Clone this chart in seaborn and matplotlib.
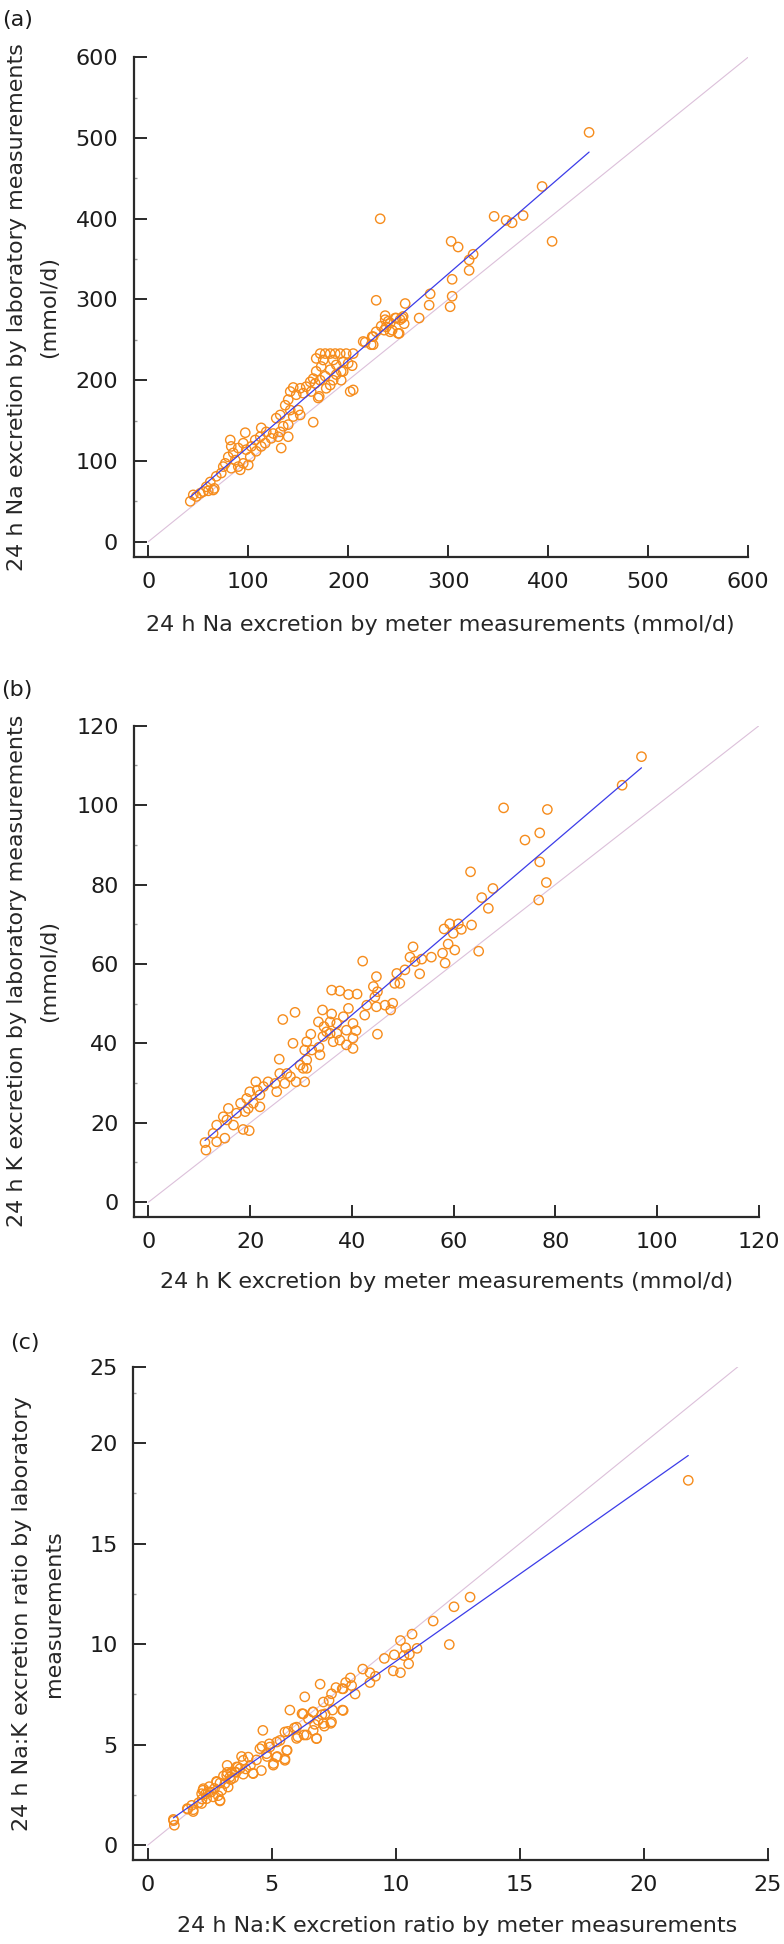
import matplotlib
matplotlib.use("Agg")
import matplotlib.pyplot as plt
from matplotlib.ticker import MultipleLocator
import seaborn as sns

# (a) 24 h Na excretion, mmol/d
na_meter = [441, 394, 232, 346, 358, 364, 375, 404, 303, 310, 325, 321, 321, 304, 304, 302, 282, 281, 228, 257,
            271, 237, 240, 248, 254, 236, 251, 228, 224, 225, 217, 244, 238, 256,
            172, 177, 182, 187, 192, 198, 205,
            168, 175, 185, 195, 200, 188, 204, 193, 182, 173, 168, 177, 185, 193, 172, 167, 162, 158, 152, 145,
            142, 148, 155, 163, 170, 178, 182, 165, 188, 195, 202, 205, 165, 140, 137, 142, 150, 152, 145, 132,
            128, 135, 140, 132, 125, 118, 113, 112, 117, 123, 130, 133, 140, 107, 103, 98, 95, 90, 85, 82,
            83, 80, 77, 75, 87, 90, 95, 102, 108, 113, 100, 92, 83, 73, 68, 62, 65, 58, 55, 52, 48, 45, 42,
            215, 225, 223, 233, 237, 242, 247, 252, 250, 255, 242, 97, 171, 60, 66]
na_lab = [507, 440, 400, 403, 398, 395, 404, 372, 372, 365, 356, 349, 336, 325, 304, 291, 307, 293, 299, 295,
          277, 280, 273, 277, 277, 262, 258, 260, 254, 244, 247, 262, 266, 270,
          233, 233, 233, 233, 233, 233, 233,
          227, 225, 225, 223, 221, 219, 218, 211, 213, 217, 211, 205, 200, 200, 200, 196, 198, 192, 190, 191,
          186, 182, 184, 186, 178, 190, 194, 202, 207, 211, 186, 188, 148, 176, 169, 163, 163, 157, 155, 157,
          153, 143, 145, 136, 134, 136, 141, 130, 122, 128, 130, 116, 130, 126, 118, 114, 122, 116, 110, 126,
          118, 105, 97, 93, 101, 93, 97, 105, 112, 118, 95, 89, 91, 85, 81, 74, 64, 68, 62, 60, 56, 58, 50,
          248, 254, 244, 267, 275, 271, 277, 275, 258, 279, 260, 135, 180, 63, 66]

# (b) 24 h K excretion, mmol/d
k_meter = [69.8, 78.4, 74.0, 76.9, 76.9, 78.2, 76.7, 63.3, 67.7, 65.5, 66.8, 64.9, 58.1, 59.2, 60.9, 61.5, 63.5,
           59.9, 57.8, 58.9, 60.2, 58.3, 52.0, 51.4, 52.4, 53.7, 55.6, 50.4, 53.3, 48.8, 49.4, 48.4, 44.8, 44.2,
           45.0, 44.5, 42.1, 42.9, 44.8, 42.5, 46.5, 47.6, 48.0, 45.0, 36.0, 37.6, 39.3, 41.0, 34.2, 36.0,
           33.4, 34.5, 35.7, 37.0, 38.3, 39.3, 40.2, 38.9, 40.8, 40.2, 38.9, 40.2, 37.6, 36.3, 35.7, 37.0,
           35.0, 34.3, 31.9, 31.1, 33.5, 28.4, 26.4, 28.8, 30.7, 32.1, 31.1, 33.7, 30.4, 29.8, 31.1, 25.7,
           30.7, 29.0, 27.9, 27.2, 25.8, 26.8, 24.9, 25.2, 23.5, 22.6, 21.1, 21.4, 19.9, 19.3, 21.9, 20.6,
           21.9, 19.6, 18.1, 19.0, 17.3, 15.7, 14.7, 15.4, 16.7, 18.6, 19.8, 13.4, 12.7, 15.0, 13.4, 11.1,
           11.3, 93.1, 96.9]
k_lab = [99.3, 98.9, 91.2, 93.0, 85.7, 80.5, 76.1, 83.2, 79.0, 76.7, 74.0, 63.2, 68.8, 70.1, 70.1, 68.7, 69.8,
         67.7, 62.7, 65.0, 63.5, 60.2, 64.3, 61.7, 60.6, 61.2, 61.7, 58.5, 57.5, 57.6, 55.1, 55.1, 56.8, 54.3,
         53.0, 51.7, 60.7, 49.6, 49.2, 47.1, 49.6, 48.4, 50.1, 42.3, 53.4, 53.2, 52.3, 52.4, 48.4, 47.4,
         45.4, 44.2, 45.4, 45.0, 46.7, 48.8, 45.0, 43.3, 43.2, 41.3, 39.6, 38.7, 40.8, 40.4, 42.5, 42.5,
         42.9, 41.7, 42.3, 40.4, 39.0, 40.0, 46.0, 47.8, 38.3, 38.3, 35.8, 37.1, 33.7, 34.5, 33.7, 36.0,
         30.3, 30.3, 31.6, 32.4, 32.4, 29.9, 29.9, 27.8, 30.3, 29.1, 30.3, 28.2, 27.8, 26.1, 27.0, 24.9,
         24.0, 23.6, 24.9, 22.8, 22.4, 23.6, 21.5, 20.7, 19.4, 18.3, 18.0, 19.4, 17.3, 16.1, 15.2, 15.0,
         13.1, 105.0, 112.2]

# (c) 24 h Na:K ratio
ratio_meter = [13.0, 12.35, 11.51, 12.16, 10.66, 10.19, 10.4, 10.86, 9.94, 10.33, 10.55, 10.52, 9.9, 10.19, 9.54,
               9.18, 8.96, 8.96, 8.67, 8.17, 8.36, 7.98, 7.88, 7.59, 6.95, 6.33, 5.73, 7.31, 7.85, 7.45,
               6.66, 6.22, 7.02, 7.38, 7.12, 6.73, 6.48, 6.3, 6.8, 6.05, 5.91, 5.65, 5.62, 5.53, 5.22,
               5.07, 4.9, 4.64, 4.61, 4.81, 4.58, 4.24, 4.38, 4.14, 3.78, 3.95, 3.85, 3.63, 3.56, 3.2,
               3.34, 3.05, 2.91, 2.77, 2.69, 2.91, 2.84, 2.48, 2.33, 2.22, 2.19, 2.05, 1.83, 1.61, 1.04,
               1.07, 3.2, 3.46, 2.55,
               1.03, 1.59, 1.83, 1.77, 2.17, 2.24, 2.17, 2.44, 2.37, 2.64, 2.91, 2.98, 2.78, 3.11, 3.31,
               3.51, 3.72, 3.85, 4.05, 4.25, 4.52, 5.06, 5.2, 5.53, 5.6, 5.33, 5.53, 6.0, 6.27, 6.67,
               6.87, 6.81, 7.08, 7.41, 7.88, 8.22, 7.84, 7.41, 7.08, 7.15, 6.67, 6.0, 6.4, 5.2, 4.92,
               4.79, 3.58, 3.38, 3.18, 3.24, 21.8]
ratio_lab = [12.34, 11.86, 11.15, 9.98, 10.5, 10.18, 9.82, 9.79, 9.47, 9.43, 9.5, 9.02, 8.67, 8.58, 9.29,
             8.4, 8.09, 8.58, 8.76, 8.32, 7.52, 8.09, 7.78, 7.84, 8.01, 7.38, 6.72, 7.2, 6.72, 6.72,
             6.63, 6.54, 6.49, 6.06, 5.92, 6.01, 6.28, 5.48, 5.3, 5.39, 5.83, 5.66, 4.72, 4.29, 4.41,
             4.06, 5.04, 5.71, 4.91, 4.41, 3.71, 3.58, 4.24, 3.97, 4.41, 3.79, 3.53, 3.88, 3.62, 3.62,
             3.26, 3.44, 3.09, 3.17, 2.82, 2.2, 2.46, 2.91, 2.55, 2.73, 2.29, 2.11, 1.76, 1.79, 1.22,
             0.99, 3.97, 3.35, 2.64,
             1.28, 1.82, 1.67, 1.98, 2.07, 2.81, 2.56, 2.65, 2.31, 2.4, 2.23, 2.73, 3.14, 3.06, 3.39,
             3.64, 3.81, 4.22, 4.38, 3.56, 4.8, 3.98, 4.38, 4.22, 4.72, 5.21, 5.63, 5.87, 6.53, 6.62,
             6.21, 5.31, 6.05, 6.13, 6.7, 7.94, 7.78, 7.53, 7.12, 6.53, 5.71, 5.31, 5.48, 5.13, 4.88,
             4.55, 3.89, 3.64, 3.48, 2.89, 18.15]

ring = "#f68c1c"
fit_col = "#3c3ce8"
diag_col = "#dcc0da"
ink = "#2a2a2a"

sns.set_style("ticks")
plt.rcParams["font.family"] = ["DejaVu Sans"]
plt.rcParams["font.size"] = 16
plt.rcParams["text.color"] = "#1c1c1c"

W, H = 784, 1944
fig = plt.figure(figsize=(W / 100, H / 100), dpi=100)


def add_panel(box, meter, lab, xlim, ylim, xticks, yticks, yticklabels, diag_end, minor,
              xlabel, ylabel, xlab_y, xlab_x, ylab_x, tag, tag_xy):
    l, t, r, b = box
    ax = fig.add_axes([l / W, 1 - b / H, (r - l) / W, (b - t) / H])
    ax.plot([0, diag_end], [0, diag_end], color=diag_col, lw=0.8, zorder=1)
    sns.scatterplot(x=meter, y=lab, ax=ax, s=45, facecolors="none", edgecolor=ring,
                    linewidth=1.0, zorder=2)
    sns.regplot(x=meter, y=lab, ax=ax, scatter=False, ci=None, truncate=True,
                line_kws=dict(color=fit_col, lw=0.9, zorder=3))
    ax.set_xlim(*xlim)
    ax.set_ylim(*ylim)
    ax.set_xticks(xticks)
    ax.set_yticks(yticks)
    ax.set_yticklabels(yticklabels)
    ax.yaxis.set_minor_locator(MultipleLocator(minor))
    sns.despine(ax=ax)
    for s in ["left", "bottom"]:
        ax.spines[s].set_linewidth(1.6)
        ax.spines[s].set_color(ink)
    ax.tick_params(which="major", direction="in", length=9, width=1.4, color=ink,
                   labelsize=16, pad=11, labelcolor="#1c1c1c")
    ax.tick_params(axis="y", which="minor", direction="in", length=2.5, width=1, color="#9a9a9a")
    ax.set_xlabel(xlabel, fontsize=16)
    ax.xaxis.set_label_coords(xlab_x, xlab_y)
    ax.set_ylabel(ylabel, fontsize=16, linespacing=1.75, va="center")
    ax.yaxis.set_label_coords(ylab_x, 0.5)
    fig.text(tag_xy[0] / W, 1 - tag_xy[1] / H, tag, ha="left", va="top", fontsize=16)
    return ax


add_panel((133.5, 57.3, 748, 556.7), na_meter, na_lab, (-14.8, 600), (-18.6, 600),
          range(0, 601, 100), range(0, 601, 100), [str(v) for v in range(0, 601, 100)], 600, 50,
          "24 h Na excretion by meter measurements (mmol/d)",
          "24 h Na excretion by laboratory measurements\n(mmol/d)",
          -0.117, 0.5, -0.1635, "(a)", (2, 10))

add_panel((134, 725.7, 759, 1216.8), k_meter, k_lab, (-2.85, 120), (-3.7, 120),
          range(0, 121, 20), range(0, 121, 20), [str(v) for v in range(0, 121, 20)], 120, 10,
          "24 h K excretion by meter measurements (mmol/d)",
          "24 h K excretion by laboratory measurements\n(mmol/d)",
          -0.112, 0.5, -0.1616, "(b)", (1, 680))

# top tick of the ratio panel sits at the end of the 1:1 line, labelled 25 as in the original
ratio_top = 23.8
add_panel((133.2, 1366.8, 767.6, 1859.6), ratio_meter, ratio_lab, (-0.59, 25), (-0.72, ratio_top),
          range(0, 26, 5), [0, 5, 10, 15, 20, ratio_top], ["0", "5", "10", "15", "20", "25"], ratio_top, 2.5,
          "24 h Na:K excretion ratio by meter measurements",
          "24 h Na:K excretion ratio by laboratory\nmeasurements",
          -0.114, 0.51, -0.150, "(c)", (10, 1333))

fig.savefig("out.png", dpi=100)
